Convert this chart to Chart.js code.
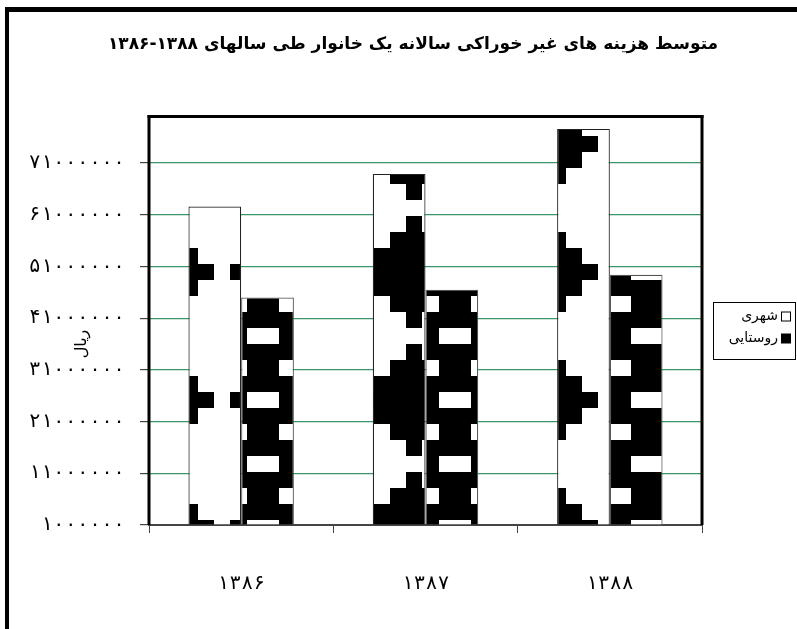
<!DOCTYPE html>
<html><head><meta charset="utf-8">
<script src="https://cdn.jsdelivr.net/npm/chart.js@4"></script>
<style>html,body{margin:0;padding:0;background:#fff}canvas{display:block}</style>
</head><body>
<canvas id="c" width="797" height="629"></canvas>
<script>
const chartTitle = 'متوسط هزینه های غیر خوراکی سالانه یک خانوار طی سالهای ۱۳۸۸-۱۳۸۶';
const categories = ['۱۳۸۶', '۱۳۸۷', '۱۳۸۸'];
const seriesNames = ['شهری', 'روستایی'];
const urbanValues = [62600000, 68900000, 77600000];
const ruralValues = [45000000, 46500000, 49400000];
const yTickValues = [1000000, 11000000, 21000000, 31000000, 41000000, 51000000, 61000000, 71000000];
const yTickLabels = ['۱۰۰۰۰۰۰', '۱۱۰۰۰۰۰۰', '۲۱۰۰۰۰۰۰', '۳۱۰۰۰۰۰۰', '۴۱۰۰۰۰۰۰', '۵۱۰۰۰۰۰۰', '۶۱۰۰۰۰۰۰', '۷۱۰۰۰۰۰۰'];
const yAxisTitle = 'ریال';
const yMin = 1000000, yMax = 80000000;

const canvas = document.getElementById('c');
const mainCtx = canvas.getContext('2d');

function makeUrbanPattern() {
  const c = document.createElement('canvas'); c.width = 128; c.height = 128;
  const g = c.getContext('2d');
  g.fillStyle = '#fff'; g.fillRect(0, 0, 128, 128);
  g.fillStyle = '#000';
  const cx = 30, cy = 16;
  for (let k = -3; k <= 3; k++) {
    const w = (7 - 2 * Math.abs(k)) * 16;
    const y0 = cy - 8 + 16 * k, x0 = cx - w / 2;
    for (const dx of [-128, 0, 128]) for (const dy of [-128, 0, 128]) g.fillRect(x0 + dx, y0 + dy, w, 16);
  }
  return mainCtx.createPattern(c, 'repeat');
}
function makeRuralPattern() {
  const c = document.createElement('canvas'); c.width = 64; c.height = 64;
  const g = c.getContext('2d');
  g.fillStyle = '#000'; g.fillRect(0, 0, 64, 64);
  g.fillStyle = '#fff';
  g.fillRect(55, 8, 9, 16); g.fillRect(0, 8, 23, 16);
  g.fillRect(23, 40, 32, 16);
  return mainCtx.createPattern(c, 'repeat');
}

const FONT = '"DejaVu Sans", sans-serif';
const MONO = '"DejaVu Sans Mono", "DejaVu Sans", monospace';

const decor = {
  id: 'decor',
  beforeDraw(chart) {
    const ctx = chart.ctx;
    ctx.save(); ctx.fillStyle = '#fff'; ctx.fillRect(0, 0, chart.width, chart.height); ctx.restore();
  },
  afterDraw(chart) {
    const ctx = chart.ctx, a = chart.chartArea;
    ctx.save();
    // outer frame
    ctx.fillStyle = '#000';
    ctx.fillRect(5, 7, 4, chart.height - 7);
    ctx.fillRect(5, 7, chart.width - 5, 5);
    // plot border
    ctx.fillRect(a.left - 1.5, a.top - 1.5, 3, a.bottom - a.top + 1.5);
    ctx.fillRect(a.left - 1.5, a.top - 1.5, a.right - a.left + 3, 3);
    ctx.fillRect(a.right - 1.5, a.top - 1.5, 3, a.bottom - a.top + 1.5);
    // title
    ctx.direction = 'rtl';
    ctx.font = 'bold 17px ' + FONT;
    ctx.textAlign = 'center'; ctx.textBaseline = 'middle';
    ctx.fillText(chartTitle, 413, 45);
    // y axis title
    ctx.save();
    ctx.translate(82, 344); ctx.rotate(-Math.PI / 2);
    ctx.font = '16px ' + FONT;
    ctx.fillText(yAxisTitle, 0, 0);
    ctx.restore();
    // legend
    ctx.lineWidth = 1; ctx.strokeStyle = '#000';
    ctx.strokeRect(713.5, 302.5, 82, 57);
    ctx.font = '14px ' + FONT; ctx.textAlign = 'right';
    const ys = [316.5, 338.5];
    const fills = ['#fff', '#000'];
    for (let i = 0; i < 2; i++) {
      ctx.fillStyle = '#000';
      ctx.fillText(seriesNames[i], 778, ys[i]);
      ctx.fillStyle = fills[i];
      ctx.fillRect(781.5, ys[i] - 4.5, 9, 9);
      ctx.strokeRect(781.5, ys[i] - 4.5, 9, 9);
    }
    ctx.restore();
  }
};

new Chart(canvas, {
  type: 'bar',
  data: {
    labels: categories,
    datasets: [
      { label: seriesNames[0], data: urbanValues, backgroundColor: makeUrbanPattern(), borderColor: '#222', borderWidth: 1.2, base: yMin,
        categoryPercentage: 0.572, barPercentage: 1.0 },
      { label: seriesNames[1], data: ruralValues, backgroundColor: makeRuralPattern(), borderColor: '#555', borderWidth: 1.2, base: yMin,
        categoryPercentage: 0.572, barPercentage: 1.0 }
    ]
  },
  options: {
    responsive: false, animation: false, devicePixelRatio: 1,
    layout: { padding: { left: 0, right: 95, top: 116.5, bottom: 0 } },
    plugins: { legend: { display: false }, title: { display: false }, tooltip: { enabled: false } },
    scales: {
      x: {
        offset: true,
        grid: { offset: true, drawOnChartArea: false, drawTicks: true, tickLength: 8, color: '#444', tickColor: '#444' },
        border: { display: true, color: '#444', width: 2 },
        ticks: { padding: 39, color: '#000', font: { family: MONO, size: 20 } },
        afterFit(s) { s.height = 104; }
      },
      y: {
        min: yMin, max: yMax,
        afterBuildTicks(s) { s.ticks = yTickValues.map(v => ({ value: v })); },
        grid: {
          color: c => (c.tick && c.tick.value === yMin) ? 'rgba(0,0,0,0)' : 'rgb(58,150,104)',
          tickColor: '#444', tickLength: 9, lineWidth: 1.2
        },
        border: { display: false },
        ticks: {
          padding: 15, color: '#000', font: { family: MONO, size: 20 },
          callback(v) { const i = yTickValues.indexOf(v); return i >= 0 ? yTickLabels[i] : ''; }
        },
        afterFit(s) { s.width = 149; }
      }
    }
  },
  plugins: [decor]
});
</script>
</body></html>
